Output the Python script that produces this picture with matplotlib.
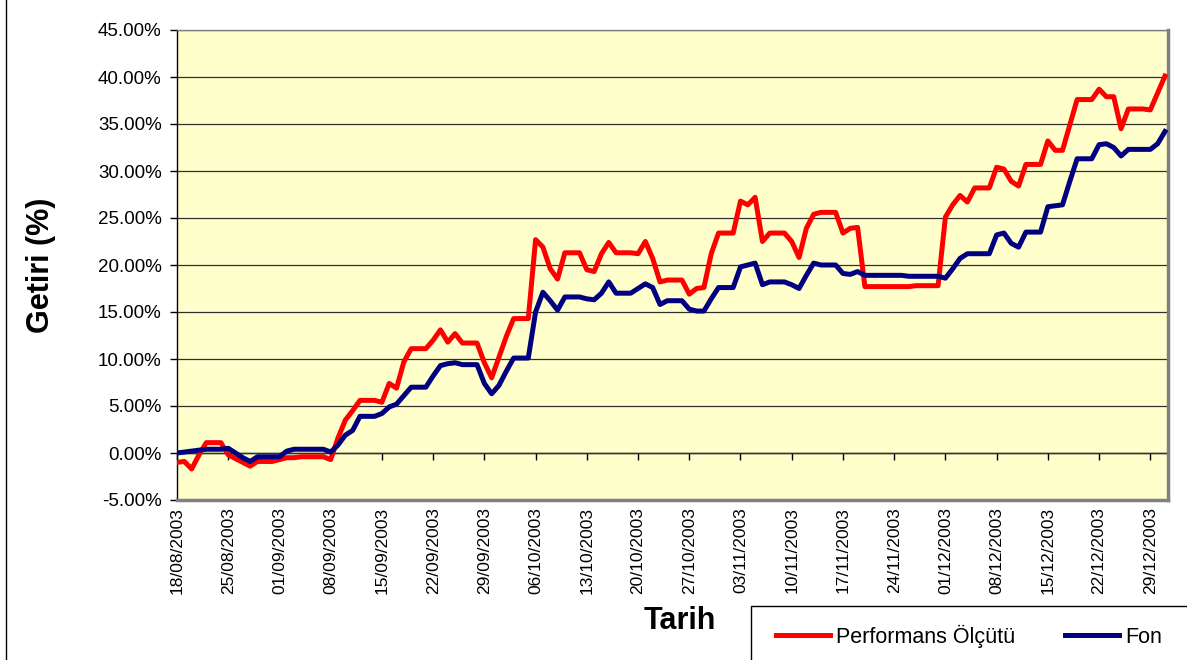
import numpy as np
import pandas as pd
import matplotlib
matplotlib.use("Agg")
import matplotlib.pyplot as plt
import matplotlib.dates as mdates
from matplotlib.lines import Line2D
from matplotlib.patches import Rectangle
from matplotlib.ticker import FuncFormatter

plt.rcParams['font.family'] = ['Liberation Sans', 'DejaVu Sans']

# daily dates (weekends carry the last value)
dates = pd.date_range('2003-08-18', '2003-12-31', freq='D')

# Performans Ölçütü (%)
benchmark = [
    -1.0, -0.9, -1.7, -0.2, 1.1, 1.1, 1.1,
    -0.2, -0.6, -1.0, -1.4, -0.9, -0.9, -0.9,
    -0.7, -0.5, -0.5, -0.4, -0.4, -0.4, -0.4,
    -0.7, 1.6, 3.5, 4.5, 5.6, 5.6, 5.6,
    5.4, 7.4, 6.9, 9.7, 11.1, 11.1, 11.1,
    12.0, 13.1, 11.8, 12.7, 11.7, 11.7, 11.7,
    9.6, 8.0, 10.2, 12.4, 14.3, 14.3, 14.3,
    22.7, 21.9, 19.6, 18.5, 21.3, 21.3, 21.3,
    19.5, 19.3, 21.2, 22.4, 21.3, 21.3, 21.3,
    21.2, 22.5, 20.7, 18.2, 18.4, 18.4, 18.4,
    16.9, 17.5, 17.6, 21.2, 23.4, 23.4, 23.4,
    26.8, 26.4, 27.2, 22.5, 23.4, 23.4, 23.4,
    22.5, 20.8, 23.9, 25.4, 25.6, 25.6, 25.6,
    23.4, 23.9, 24.0, 17.7, 17.7, 17.7, 17.7,
    17.7, 17.7, 17.7, 17.8, 17.8, 17.8, 17.8,
    25.1, 26.4, 27.4, 26.7, 28.2, 28.2, 28.2,
    30.4, 30.2, 28.9, 28.4, 30.7, 30.7, 30.7,
    33.2, 32.2, 32.2, 34.9, 37.6, 37.6, 37.6,
    38.7, 37.9, 37.9, 34.5, 36.6, 36.6, 36.6,
    36.5, 38.3, 40.1,
]

# Fon (%)
fund = [
    0.0, 0.1, 0.2, 0.3, 0.4, 0.4, 0.4,
    0.5, 0.0, -0.5, -0.9, -0.4, -0.4, -0.4,
    -0.4, 0.2, 0.4, 0.4, 0.4, 0.4, 0.4,
    0.1, 0.85, 1.9, 2.4, 3.9, 3.9, 3.9,
    4.2, 4.9, 5.2, 6.1, 7.0, 7.0, 7.0,
    8.2, 9.3, 9.5, 9.6, 9.4, 9.4, 9.4,
    7.4, 6.3, 7.2, 8.7, 10.1, 10.1, 10.1,
    15.0, 17.1, 16.2, 15.2, 16.6, 16.6, 16.6,
    16.4, 16.3, 17.0, 18.2, 17.0, 17.0, 17.0,
    17.5, 18.0, 17.6, 15.8, 16.2, 16.2, 16.2,
    15.3, 15.1, 15.1, 16.4, 17.6, 17.6, 17.6,
    19.8, 20.0, 20.2, 17.9, 18.2, 18.2, 18.2,
    17.9, 17.5, 18.9, 20.2, 20.0, 20.0, 20.0,
    19.1, 19.0, 19.3, 18.9, 18.9, 18.9, 18.9,
    18.9, 18.9, 18.8, 18.8, 18.8, 18.8, 18.8,
    18.6, 19.6, 20.7, 21.2, 21.2, 21.2, 21.2,
    23.2, 23.4, 22.3, 21.9, 23.5, 23.5, 23.5,
    26.2, 26.3, 26.4, 28.9, 31.3, 31.3, 31.3,
    32.8, 32.9, 32.5, 31.6, 32.3, 32.3, 32.3,
    32.3, 32.9, 34.2,
]

tick_dates = pd.to_datetime([
    '2003-08-18', '2003-08-25', '2003-09-01', '2003-09-08', '2003-09-15',
    '2003-09-22', '2003-09-29', '2003-10-06', '2003-10-13', '2003-10-20',
    '2003-10-27', '2003-11-03', '2003-11-10', '2003-11-17', '2003-11-24',
    '2003-12-01', '2003-12-08', '2003-12-15', '2003-12-22', '2003-12-29',
])
y_ticks = [-5, 0, 5, 10, 15, 20, 25, 30, 35, 40, 45]

W, H = 1187, 660
fig = plt.figure(figsize=(W / 100, H / 100), dpi=100)
fig.patch.set_facecolor('white')

# plot area in pixel positions
left, right, top, bottom = 177, 1168, 30, 500
ax = fig.add_axes([left / W, 1 - bottom / H, (right - left) / W, (bottom - top) / H])
ax.set_facecolor('#FFFFCC')

l1, = ax.plot(dates, benchmark, color='#FF0000', lw=3.6, label='Performans Ölçütü',
              solid_joinstyle='round', zorder=3)
l2, = ax.plot(dates, fund, color='#000080', lw=3.6, label='Fon',
              solid_joinstyle='round', zorder=4)

ax.set_ylim(-5, 45)
ax.set_yticks(y_ticks)
ax.yaxis.set_major_formatter(FuncFormatter(lambda v, p: f'{v:.2f}%'))
ax.set_xlim(dates[0], dates[-1] + pd.Timedelta(hours=10))
ax.set_xticks(tick_dates)
ax.xaxis.set_major_formatter(mdates.DateFormatter('%d/%m/%Y'))

ax.yaxis.grid(True, color='#303030', lw=0.9, zorder=1)
ax.set_axisbelow(True)

ax.tick_params(axis='y', direction='out', length=5, width=1, pad=6, labelsize=13.5)
ax.tick_params(axis='x', length=0, pad=5, labelsize=12.5, labelrotation=90)

ax.spines['top'].set_color('#808080')
ax.spines['top'].set_linewidth(1)
for side in ['right', 'bottom']:
    ax.spines[side].set_color('#808080')
    ax.spines[side].set_linewidth(2.5)
ax.spines['left'].set_color('black')
ax.spines['left'].set_linewidth(1)

# category axis crossing at 0%
sec = ax.secondary_xaxis(0.1)
sec.set_xticks(tick_dates)
sec.set_xticklabels([])
sec.tick_params(axis='x', direction='out', length=5, width=1)
sec.spines['bottom'].set_color('black')
sec.spines['bottom'].set_linewidth(1)

ax.set_ylabel('Getiri (%)', fontsize=22, fontweight='bold', labelpad=30)
fig.text(680 / W, 1 - 621 / H, 'Tarih', fontsize=22, fontweight='bold',
         ha='center', va='center')

# legend box
fig.add_artist(Rectangle((751 / W, -0.05), 0.5, 1 - 606 / H + 0.05,
                         transform=fig.transFigure, facecolor='white',
                         edgecolor='black', lw=1))
fig.legend(handles=[l1, l2], loc='center left', frameon=False, ncol=2,
           bbox_to_anchor=(776 / W, 1 - 636 / H), borderaxespad=0, borderpad=0,
           fontsize=15.5, handlelength=2.5, handletextpad=0.3, columnspacing=2.3)

# chart area border (left edge)
fig.add_artist(Line2D([6 / W, 6 / W], [0, 1], transform=fig.transFigure,
                      color='black', lw=1))

fig.savefig('out.png', dpi=100)
